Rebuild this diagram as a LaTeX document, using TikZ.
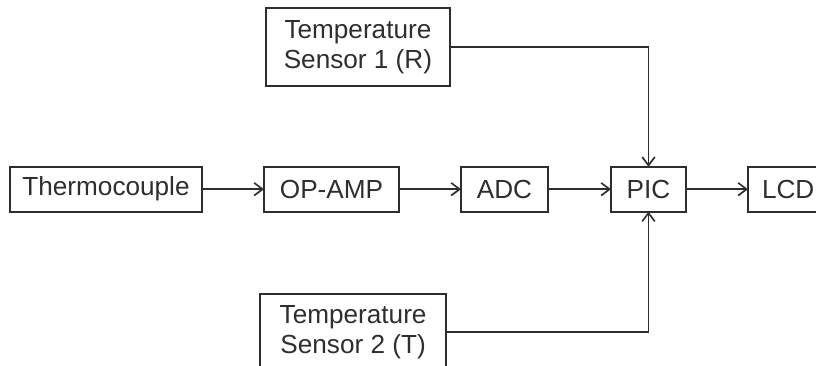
\documentclass[tikz,border=0pt]{standalone}
\usepackage{fontspec}
\setmainfont{Liberation Sans}
\usepackage{xcolor}
\usetikzlibrary{arrows.meta,positioning}
\definecolor{ink}{HTML}{2E2E2E}
\tikzset{
  blockbox/.style={
    rectangle, draw=ink, line width=1.4pt, outer sep=0pt,
    minimum height=1.12cm, minimum width=#1,
    font=\fontsize{18.6}{21.5}\selectfont, text=ink, align=center,
    inner sep=3pt
  },
  blockbox/.default=2cm,
  sensorbox/.style={
    blockbox=#1, minimum height=1.93cm
  },
  sensorbox/.default=4.6cm,
  sigarrow/.style={
    -{Straight Barb[length=6pt, width=9pt, line width=1.2pt]},
    line width=1.1pt, color=ink
  },
}
\begin{document}
\begin{tikzpicture}[node distance=1.55cm]
  \useasboundingbox (0,0) rectangle (20.4,9.15);
  % main signal chain
  \node[blockbox=4.8cm] (thermo) at (2.65,4.42) {Thermocouple};
  \node[blockbox=3.375cm, right=of thermo] (opamp) {OP-AMP};
  \node[blockbox=2.175cm, right=of opamp] (adc) {ADC};
  \node[blockbox=1.875cm, right=1.575cm of adc] (pic) {PIC};
  % LCD box runs past the right edge
  \node[blockbox, text width=1.95cm, align=left, inner xsep=0.35cm, right=of pic] (lcd) {LCD};
  \draw[sigarrow] (thermo) -- (opamp);
  \draw[sigarrow] (opamp) -- (adc);
  \draw[sigarrow] (adc) -- (pic);
  \draw[sigarrow] (pic) -- (lcd);
  % sensors
  \node[sensorbox=4.6cm, above=2.03cm of opamp, xshift=0.66cm] (sensa) {Temperature\\Sensor 1 (R)};
  \node[sensorbox=4.65cm, below=2.05cm of opamp, xshift=0.54cm] (sensb) {Temperature\\Sensor 2 (T)};
  \draw[sigarrow] (sensa.east) -| (pic.north);
  \draw[sigarrow] (sensb.east) -| (pic.south);
\end{tikzpicture}
\end{document}
